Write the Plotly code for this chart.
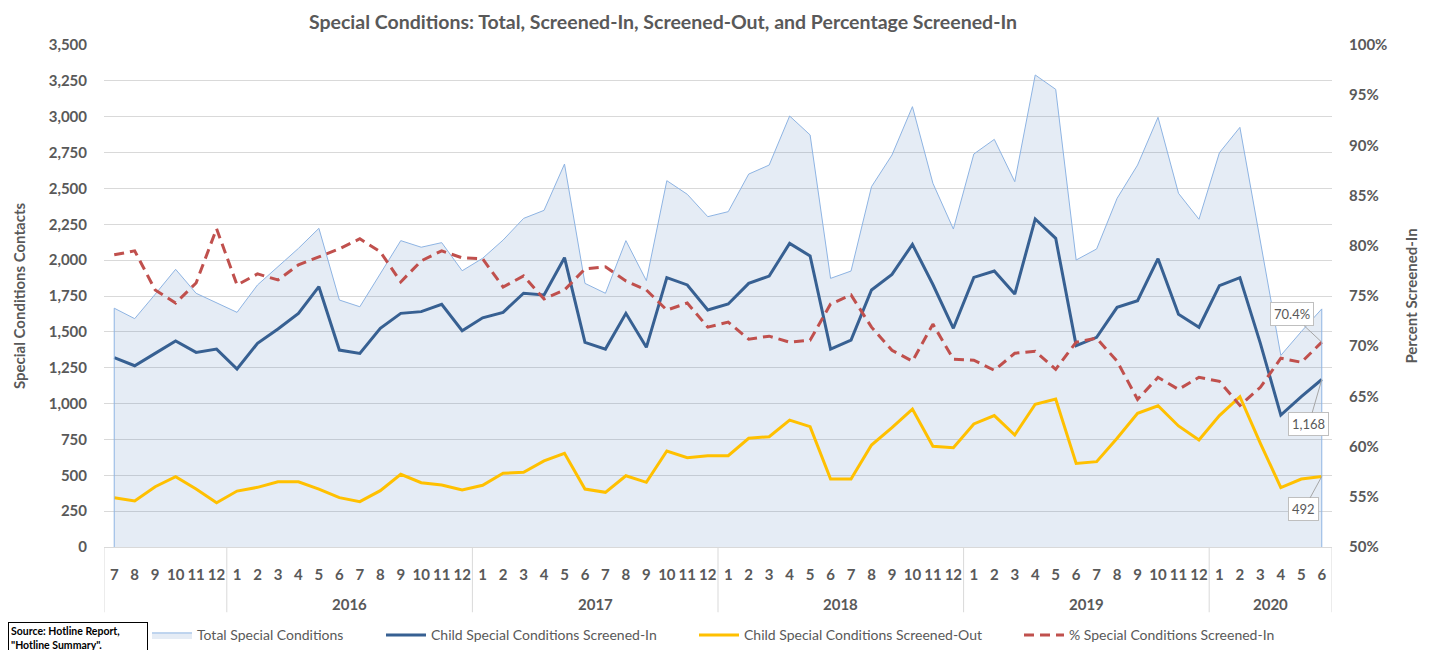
import plotly.graph_objects as go

years = [""] * 6 + ["2016"] * 12 + ["2017"] * 12 + ["2018"] * 12 + ["2019"] * 12 + ["2020"] * 6
months = [str(m) for m in range(7, 13)] + [str(m) for m in range(1, 13)] * 4 + [str(m) for m in range(1, 7)]

total = [1665, 1592, 1762, 1936, 1769, 1703, 1636, 1827, 1954, 2082, 2222, 1722,
         1675, 1908, 2136, 2090, 2122, 1926, 2013, 2140, 2291, 2347, 2670, 1838,
         1769, 2136, 1857, 2554, 2459, 2303, 2338, 2600, 2663, 3005, 2873, 1873,
         1924, 2512, 2733, 3070, 2536, 2217, 2740, 2842, 2547, 3291, 3191, 2001,
         2078, 2431, 2663, 2996, 2466, 2285, 2749, 2926, 2145, 1336, 1502, 1660]

screened_in = [1320, 1264, 1350, 1436, 1357, 1380, 1241, 1420, 1520, 1629, 1815, 1373,
               1350, 1525, 1629, 1641, 1692, 1508, 1598, 1636, 1769, 1757, 2017, 1427,
               1380, 1629, 1392, 1878, 1827, 1652, 1694, 1838, 1889, 2117, 2029, 1380,
               1443, 1792, 1901, 2110, 1830, 1525, 1880, 1924, 1764, 2287, 2152, 1404,
               1462, 1671, 1717, 2010, 1622, 1532, 1822, 1878, 1420, 920, 1048, 1168]

screened_out = [344, 321, 420, 490, 404, 309, 390, 416, 455, 455, 404, 344,
                316, 393, 507, 448, 432, 397, 430, 514, 521, 600, 653, 404,
                381, 497, 451, 669, 623, 637, 637, 758, 769, 885, 839, 474,
                474, 711, 832, 962, 702, 692, 858, 916, 781, 995, 1032, 583,
                595, 758, 932, 985, 844, 746, 916, 1048, 723, 414, 474, 492]

pct_in = [79.1, 79.5, 75.6, 74.3, 76.3, 81.7, 76.1, 77.2, 76.6, 78.1, 78.9, 79.7,
          80.7, 79.4, 76.4, 78.5, 79.5, 78.8, 78.7, 75.9, 77.0, 74.7, 75.6, 77.7,
          77.9, 76.5, 75.6, 73.6, 74.3, 71.9, 72.4, 70.7, 71.0, 70.4, 70.6, 74.2,
          75.1, 71.9, 69.6, 68.5, 72.2, 68.7, 68.6, 67.6, 69.3, 69.5, 67.7, 70.4,
          70.8, 68.5, 64.7, 66.9, 65.7, 66.9, 66.5, 64.1, 65.9, 68.8, 68.4, 70.4]

left_ticks = list(range(0, 3501, 250))
right_ticks = list(range(50, 101, 5))
right_labels = [f"{v}%" for v in right_ticks]

FONT = "Lato"
GRAY = "#595959"

# the page body adds an 8px offset; the figure is sized so it fills the 1431x650 window
W, H = 1423, 642
L, R, T, B = 96, 99, 37, 103
PW = W - L - R

n = len(months)
xi = list(range(n))

fig = go.Figure()
fig.add_trace(go.Scatter(
    x=xi, y=total, name="Total Special Conditions", mode="lines",
    line=dict(color="#8EB4E3", width=1), fill="tozeroy",
    fillcolor="rgba(79,129,189,0.15)", yaxis="y", legend="legend"))
fig.add_trace(go.Scatter(
    x=xi, y=screened_in, name="Child Special Conditions Screened-In", mode="lines",
    line=dict(color="#376092", width=3), yaxis="y", legend="legend2"))
fig.add_trace(go.Scatter(
    x=xi, y=screened_out, name="Child Special Conditions Screened-Out", mode="lines",
    line=dict(color="#FFC000", width=3), yaxis="y", legend="legend3"))
fig.add_trace(go.Scatter(
    x=xi, y=pct_in, name="% Special Conditions Screened-In", mode="lines",
    line=dict(color="#C0504D", width=3, dash="10px,6px"), yaxis="y2", legend="legend4"))

# vertical edges of the area (Excel style)
for i in (0, n - 1):
    fig.add_shape(type="line", xref="x", yref="y", x0=i, x1=i, y0=0, y1=total[i],
                  line=dict(color="#8EB4E3", width=1), layer="above")

# year group dividers and labels
bounds = [0] + [i for i in range(1, n) if years[i] != years[i - 1]] + [n]
for b in bounds:
    fig.add_shape(type="line", xref="x", yref="paper", x0=b - 0.5, x1=b - 0.5, y0=0, y1=-0.13,
                  line=dict(color="#D9D9D9", width=1))
for a, b in zip(bounds[:-1], bounds[1:]):
    if years[a]:
        fig.add_annotation(x=(a + b - 1) / 2, y=-0.1135, xref="x", yref="paper", text=f"<b>{years[a]}</b>",
                           showarrow=False, yanchor="middle",
                           font=dict(family=FONT, size=15, color=GRAY))

box = dict(showarrow=True, arrowhead=0, arrowwidth=1, arrowcolor="#A6A6A6",
           bgcolor="white", bordercolor="#BFBFBF", borderwidth=1, borderpad=3,
           font=dict(family=FONT, size=13, color=GRAY), xref="x", axref="pixel", ayref="pixel")
fig.add_annotation(x=n - 1, y=pct_in[-1], yref="y2", text=f"{pct_in[-1]:.1f}%", ax=-30, ay=-28, **box)
fig.add_annotation(x=n - 1, y=screened_in[-1], yref="y", text=f"{screened_in[-1]:,}", ax=-13, ay=45, **box)
fig.add_annotation(x=n - 1, y=screened_out[-1], yref="y", text=f"{screened_out[-1]:,}", ax=-18, ay=33, **box)

fig.add_annotation(xref="paper", yref="paper", x=-L / PW, y=-0.1494, xanchor="left", yanchor="top",
                   text='<b>Source: Hotline Report,<br>"Hotline Summary".</b>', showarrow=False, align="left",
                   width=134, font=dict(family=FONT, size=10.5, color="black"), bgcolor="white",
                   bordercolor="black", borderwidth=1, borderpad=2)


def px_x(p):
    # p: target screen x
    return (p - 8 - L) / PW


leg_common = dict(orientation="h", y=-0.176, yanchor="middle", xanchor="left", itemwidth=40,
                  bgcolor="rgba(0,0,0,0)", font=dict(family=FONT, size=14, color=GRAY))

fig.update_layout(
    width=W, height=H,
    margin=dict(l=L, r=R, t=T, b=B, autoexpand=False),
    paper_bgcolor="white", plot_bgcolor="white",
    title=dict(text="<b>Special Conditions: Total, Screened-In, Screened-Out, and Percentage Screened-In</b>",
               xref="container", x=(663 - 8) / W, xanchor="center",
               yref="container", y=1 - (22 - 8) / H, yanchor="middle",
               font=dict(family=FONT, size=19.5, color=GRAY)),
    font=dict(family=FONT, color=GRAY),
    showlegend=True,
    legend=dict(x=px_x(147), **leg_common),
    legend2=dict(x=px_x(381), **leg_common),
    legend3=dict(x=px_x(694), **leg_common),
    legend4=dict(x=px_x(1019), **leg_common),
    xaxis=dict(range=[-0.5, n - 0.5], tickvals=xi, ticktext=[f"<b>{m}</b>" for m in months],
               tickangle=0, showgrid=False, zeroline=False, automargin=False,
               showline=True, linecolor="#D9D9D9", linewidth=1, ticks="", ticklabelstandoff=14,
               tickfont=dict(family=FONT, size=15, color=GRAY)),
    yaxis=dict(range=[0, 3500], tickvals=left_ticks, tickformat=",", showgrid=True,
               gridcolor="#D9D9D9", gridwidth=1, zeroline=False, ticks="", automargin=False,
               ticklabelstandoff=16,
               tickfont=dict(family=FONT, size=15, color=GRAY, weight="bold"),
               title=dict(text="<b>Special Conditions Contacts</b>", standoff=19,
                          font=dict(family=FONT, size=15, color=GRAY))),
    yaxis2=dict(range=[50, 100], tickvals=right_ticks, ticktext=right_labels, overlaying="y", side="right",
                showgrid=False, zeroline=False, ticks="", ticklabelstandoff=16, automargin=False,
                tickfont=dict(family=FONT, size=15, color=GRAY, weight="bold"),
                title=dict(text="<b>Percent Screened-In</b>", standoff=20,
                           font=dict(family=FONT, size=15, color=GRAY))),
)

fig.write_html("out.html")
